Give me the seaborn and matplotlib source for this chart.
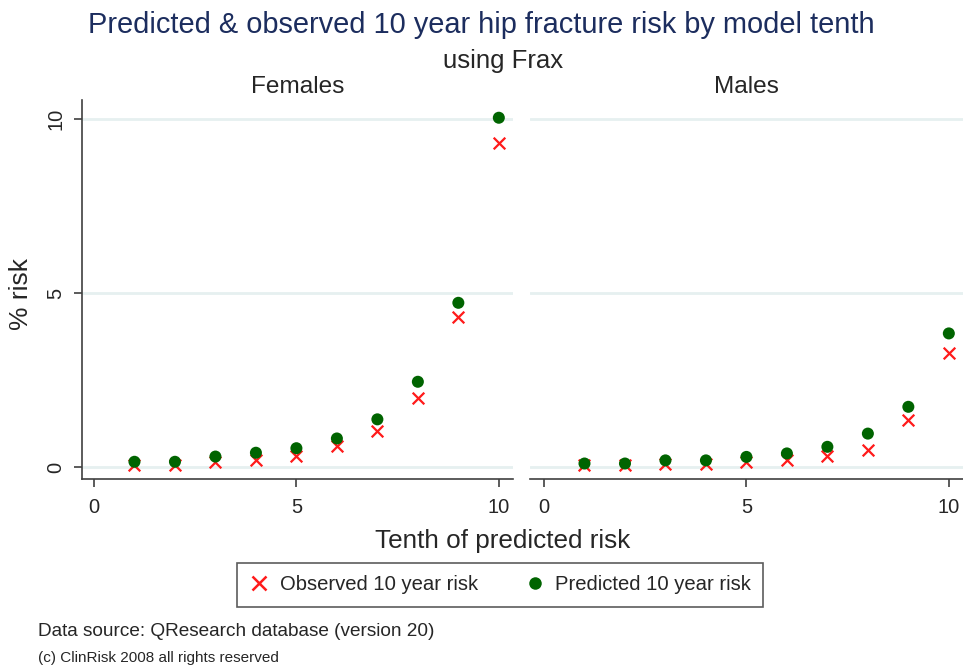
import numpy as np
import pandas as pd
import seaborn as sns
import matplotlib.pyplot as plt
from matplotlib.lines import Line2D

tenths = [1, 2, 3, 4, 5, 6, 7, 8, 9, 10]
female_observed = [0.06, 0.06, 0.15, 0.20, 0.32, 0.60, 1.04, 1.99, 4.32, 9.30]
female_predicted = [0.15, 0.15, 0.30, 0.41, 0.54, 0.82, 1.37, 2.45, 4.72, 10.04]
male_observed = [0.05, 0.05, 0.10, 0.10, 0.15, 0.19, 0.31, 0.50, 1.34, 3.29]
male_predicted = [0.10, 0.10, 0.19, 0.19, 0.29, 0.39, 0.58, 0.96, 1.73, 3.84]
panels = ["Females", "Males"]
x_ticks = [0, 5, 10]
y_ticks = [0, 5, 10]

rows = []
for sex, obs, pred in [("Females", female_observed, female_predicted),
                       ("Males", male_observed, male_predicted)]:
    for t, o, p in zip(tenths, obs, pred):
        rows.append({"sex": sex, "tenth": t, "kind": "Observed", "risk": o})
        rows.append({"sex": sex, "tenth": t, "kind": "Predicted", "risk": p})
df = pd.DataFrame(rows)

sns.set_style("white")
plt.rcParams['font.family'] = ['Liberation Sans', 'DejaVu Sans']

red = "#ff1a1a"
green = "#006400"
grid_col = "#e6f0f0"
axis_col = "#404040"

fig = plt.figure(figsize=(9.63, 6.65), dpi=100)
ax1 = fig.add_axes([82 / 963, 1 - 479 / 665, 431 / 963, 379 / 665])
ax2 = fig.add_axes([530 / 963, 1 - 479 / 665, 433 / 963, 379 / 665])

for ax, sex in zip([ax1, ax2], panels):
    sub = df[df["sex"] == sex]
    for y in y_ticks:
        ax.axhline(y, color=grid_col, lw=2, zorder=0)
    sns.scatterplot(data=sub[sub["kind"] == "Observed"], x="tenth", y="risk",
                    marker="x", color=red, s=70, linewidth=1.6, ax=ax,
                    zorder=3, legend=False)
    sns.scatterplot(data=sub[sub["kind"] == "Predicted"], x="tenth", y="risk",
                    marker="o", color=green, s=75, edgecolor="none", ax=ax,
                    zorder=4, legend=False)
    ax.set_ylim(-0.345, 10.55)
    ax.set_title(sex, fontsize=17.6, pad=5)
    ax.set_xlabel("")
    ax.set_ylabel("")
    ax.set_xticks(x_ticks)
    ax.set_xticklabels([str(v) for v in x_ticks], fontsize=14.5)
    for s in ["top", "right"]:
        ax.spines[s].set_visible(False)
    ax.spines["bottom"].set_color(axis_col)
    ax.spines["bottom"].set_linewidth(1.2)
    ax.tick_params(axis="x", direction="out", length=6, width=1.2,
                   color=axis_col, pad=8, bottom=True)

ax1.set_xlim(-0.296, 10.35)
ax2.set_xlim(-0.346, 10.35)

ax1.set_yticks(y_ticks)
ax1.set_yticklabels([str(v) for v in y_ticks], fontsize=14.5, rotation=90,
                    va="center")
ax1.spines["left"].set_color(axis_col)
ax1.spines["left"].set_linewidth(1.2)
ax1.tick_params(axis="y", direction="out", length=6, width=1.2,
                color=axis_col, pad=6, left=True)

ax2.spines["left"].set_visible(False)
ax2.set_yticks([])

fig.text(0.5, 1 - 25 / 665, "Predicted & observed 10 year hip fracture risk by model tenth",
         ha="center", va="center", fontsize=20.9, color="#1c2d5e")
fig.text(0.522, 1 - 61 / 665, "using Frax", ha="center", va="center", fontsize=18.5)
fig.text(503 / 963, 1 - 541 / 665, "Tenth of predicted risk", ha="center",
         va="center", fontsize=18.8)
fig.text(21 / 963, 1 - 294 / 665, "% risk", ha="center", va="center",
         rotation=90, fontsize=19)

handles = [
    Line2D([], [], marker="x", color=red, linestyle="none", markersize=10,
           markeredgewidth=1.8, label="Observed 10 year risk"),
    Line2D([], [], marker="o", color=green, linestyle="none", markersize=9,
           markeredgecolor="none", label="Predicted 10 year risk"),
]
leg = fig.legend(handles=handles, loc="center", ncol=2,
                 bbox_to_anchor=(500 / 963, 1 - 585 / 665), fontsize=14.6,
                 frameon=True, fancybox=False, edgecolor="#333333",
                 handletextpad=0.5, columnspacing=2.3, borderpad=0.6,
                 handlelength=1.0)
leg.get_frame().set_linewidth(1.2)

fig.text(38 / 963, 1 - 632 / 665, "Data source: QResearch database (version 20)",
         ha="left", va="center", fontsize=13.7)
fig.text(38 / 963, 1 - 658 / 665, "(c) ClinRisk 2008 all rights reserved",
         ha="left", va="center", fontsize=11)

fig.savefig("out.png", dpi=100, facecolor="white")
